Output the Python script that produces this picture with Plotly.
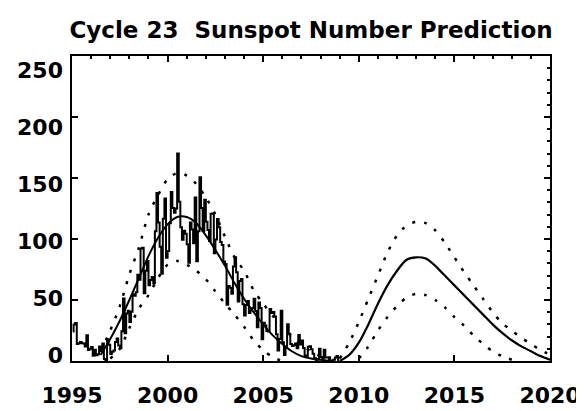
import plotly.graph_objects as go

# ---- observed monthly sunspot numbers, Jan 1995 .. Dec 2008 ----
obs_start_year = 1995
obs_values = [
    24.2, 29.9, 31.1, 14.0, 14.5, 15.6, 14.5, 14.3, 11.8, 21.1, 9.0, 10.0,      # 1995
    11.5, 4.4, 9.2, 4.8, 5.5, 11.8, 8.2, 14.4, 1.6, 0.9, 17.9, 13.3,            # 1996
    5.7, 7.6, 8.7, 15.5, 18.5, 12.7, 10.4, 24.4, 51.3, 22.8, 39.0, 41.2,        # 1997
    31.9, 40.3, 54.8, 53.4, 56.3, 70.7, 66.6, 92.2, 92.9, 55.5, 74.0, 81.9,     # 1998
    62.0, 66.3, 68.8, 63.7, 106.4, 137.7, 113.5, 93.7, 71.5, 116.7, 133.2, 84.6,  # 1999
    90.1, 112.9, 138.5, 125.5, 121.6, 124.9, 170.1, 130.5, 109.7, 99.4, 106.8, 104.4,  # 2000
    95.6, 80.6, 113.5, 107.7, 96.6, 134.0, 81.8, 106.4, 150.7, 125.5, 106.5, 132.2,  # 2001
    114.1, 107.4, 98.4, 120.7, 120.8, 88.3, 99.6, 116.4, 109.6, 97.5, 95.0, 81.6,  # 2002
    79.5, 46.2, 61.5, 60.0, 55.2, 77.4, 85.0, 72.7, 48.8, 65.5, 67.3, 46.5,     # 2003
    37.3, 45.8, 49.1, 39.3, 41.5, 43.2, 51.1, 40.9, 27.7, 48.0, 43.5, 17.9,     # 2004
    31.3, 29.2, 24.5, 24.2, 42.7, 39.3, 40.1, 36.4, 21.9, 8.7, 18.0, 41.2,      # 2005
    15.3, 4.9, 10.6, 30.2, 22.3, 13.9, 12.2, 12.9, 14.4, 10.5, 21.4, 13.6,      # 2006
    16.8, 10.7, 4.5, 3.4, 11.7, 12.1, 9.7, 6.0, 2.4, 0.9, 1.7, 10.1,            # 2007
    3.3, 2.1, 9.3, 2.9, 2.9, 3.1, 0.5, 0.5, 1.1, 2.9, 4.1, 0.8,                 # 2008
]
obs_time = [obs_start_year + (i + 0.5) / 12.0 for i in range(len(obs_values))]

# ---- cycle 23 prediction (half-year samples) ----
c23_time = [1996.5, 1997.0, 1997.5, 1998.0, 1998.5, 1999.0, 1999.5, 2000.0, 2000.5,
            2001.0, 2001.5, 2002.0, 2002.5, 2003.0, 2003.5, 2004.0, 2004.5, 2005.0,
            2005.5, 2006.0, 2006.5, 2007.0, 2007.5, 2008.0, 2008.5]
c23_mid = [5, 18, 33, 50, 68, 86, 101, 112, 118,
           118, 113, 103, 91, 78, 64, 51, 40, 30,
           21, 14, 8, 4, 2, 1, 0]
c23_high = [8, 25, 45, 71, 93, 120, 136, 149, 154,
            152, 145, 134, 120, 102, 85, 74, 58, 47,
            37, 28, 20, 13, 8, 4, 1]
c23_low_time = [1997.0, 1997.5, 1998.0, 1998.5, 1999.0, 1999.5, 2000.0, 2000.5, 2001.0,
                2001.5, 2002.0, 2002.5, 2003.0, 2003.5, 2004.0, 2004.5, 2005.0, 2005.5, 2006.0]
c23_low = [2, 10, 27, 43, 54, 68, 79, 82, 79,
           74, 67, 57, 47, 38, 28, 17, 9, 3, 0]

# ---- cycle 24 prediction ----
c24_time = [2009.0, 2009.5, 2010.0, 2010.5, 2011.0, 2011.5, 2012.0, 2012.5, 2013.0,
            2013.5, 2014.0, 2014.5, 2015.0, 2015.5, 2016.0, 2016.5, 2017.0, 2017.5,
            2018.0, 2018.5, 2019.0, 2019.5, 2020.0]
c24_mid = [0, 5, 15, 30, 47, 62, 74, 83, 85,
           84, 78, 70, 62, 54, 46, 38, 30, 23,
           17, 12, 8, 4, 1]
c24_high = [2, 15, 32, 51, 70, 89, 103, 111, 114,
            113, 107, 97, 85, 73, 62, 51, 40, 31,
            25, 19, 14, 9, 5]
c24_low_time = [2010.0, 2010.5, 2011.0, 2011.5, 2012.0, 2012.5, 2013.0, 2013.5, 2014.0,
                2014.5, 2015.0, 2015.5, 2016.0, 2016.5, 2017.0, 2017.5, 2018.0]
c24_low = [2, 12, 25, 36, 45, 52, 55, 54, 50,
           44, 36, 29, 21, 14, 8, 4, 1]

x_ticks = [1995, 2000, 2005, 2010, 2015, 2020]
y_ticks = [0, 50, 100, 150, 200, 250]
y_tick_labels = ["0", "50", "100", "150", "200", "250"]

FONT = "DejaVu Sans"
BLACK = "#000000"
DOT = "3px,9px"

# the page body adds an 8px margin, so the figure is 8px smaller on each axis
FIG_W, FIG_H = 576, 403

fig = go.Figure()
fig.add_trace(go.Scatter(x=obs_time, y=obs_values, mode="lines",
                         line=dict(color=BLACK, width=2, shape="hvh"), showlegend=False))
fig.add_trace(go.Scatter(x=c23_time, y=c23_mid, mode="lines",
                         line=dict(color=BLACK, width=2, shape="spline", smoothing=0.8),
                         showlegend=False))
fig.add_trace(go.Scatter(x=c23_time, y=c23_high, mode="lines",
                         line=dict(color=BLACK, width=2.5, dash=DOT, shape="spline",
                                   smoothing=0.8), showlegend=False))
fig.add_trace(go.Scatter(x=c23_low_time, y=c23_low, mode="lines",
                         line=dict(color=BLACK, width=2.5, dash=DOT, shape="spline",
                                   smoothing=0.8), showlegend=False))
fig.add_trace(go.Scatter(x=c24_time, y=c24_mid, mode="lines",
                         line=dict(color=BLACK, width=2.2, shape="spline", smoothing=0.8),
                         showlegend=False))
fig.add_trace(go.Scatter(x=c24_time, y=c24_high, mode="lines",
                         line=dict(color=BLACK, width=2.5, dash=DOT, shape="spline",
                                   smoothing=0.8), showlegend=False))
fig.add_trace(go.Scatter(x=c24_low_time, y=c24_low, mode="lines",
                         line=dict(color=BLACK, width=2.5, dash=DOT, shape="spline",
                                   smoothing=0.8), showlegend=False))
# helper traces so the overlay axes exist
fig.add_trace(go.Scatter(x=[None], y=[None], xaxis="x2", yaxis="y2", showlegend=False,
                         hoverinfo="skip"))
fig.add_trace(go.Scatter(x=[None], y=[None], xaxis="x", yaxis="y3", showlegend=False,
                         hoverinfo="skip"))

fig.update_layout(
    width=FIG_W, height=FIG_H,
    margin=dict(l=64, r=34, t=48, b=50),
    paper_bgcolor="white", plot_bgcolor="white",
    title=dict(text="Cycle 23  Sunspot Number Prediction",
               font=dict(family=FONT, size=23, color=BLACK, weight="bold"),
               x=0.5, xref="paper", xanchor="center",
               y=1 - 22 / FIG_H, yref="container", yanchor="middle"),
    xaxis=dict(range=[1995, 2020], showline=True, linewidth=2, linecolor=BLACK,
               mirror=True, ticks="inside", tickvals=x_ticks, ticklen=6, tickwidth=2,
               tickcolor=BLACK, showgrid=False, zeroline=False, automargin=False,
               tickfont=dict(family=FONT, size=22, color=BLACK, weight="bold"),
               ticklabelstandoff=14),
    xaxis2=dict(range=[1995, 2020], overlaying="x", side="top", anchor="y",
                showline=False, ticks="inside", tickvals=x_ticks, ticklen=6, tickwidth=2,
                tickcolor=BLACK, showticklabels=False, showgrid=False, zeroline=False,
                automargin=False,
                minor=dict(ticks="inside", tickmode="linear", tick0=1995, dtick=1,
                           ticklen=3, tickwidth=2, tickcolor=BLACK, showgrid=False)),
    yaxis=dict(range=[0, 250], showline=True, linewidth=2, linecolor=BLACK,
               mirror=True, ticks="inside", tickvals=y_ticks, ticklen=6, tickwidth=2,
               tickcolor=BLACK, showticklabels=False, showgrid=False, zeroline=False,
               automargin=False),
    yaxis2=dict(range=[0, 250], overlaying="y", side="right", anchor="x",
                showline=False, ticks="inside", tickvals=y_ticks, ticklen=6, tickwidth=2,
                tickcolor=BLACK, showticklabels=False, showgrid=False, zeroline=False,
                automargin=False,
                minor=dict(ticks="inside", tickmode="linear", tick0=0, dtick=10,
                           ticklen=3, tickwidth=2, tickcolor=BLACK, showgrid=False)),
    yaxis3=dict(range=[-5.3, 262.3], overlaying="y", side="left", anchor="x",
                showline=False, ticks="", tickvals=y_ticks, ticktext=y_tick_labels,
                showgrid=False, zeroline=False, automargin=False,
                tickfont=dict(family=FONT, size=22, color=BLACK, weight="bold"),
                ticklabelstandoff=8),
)

fig.write_html("out.html")
